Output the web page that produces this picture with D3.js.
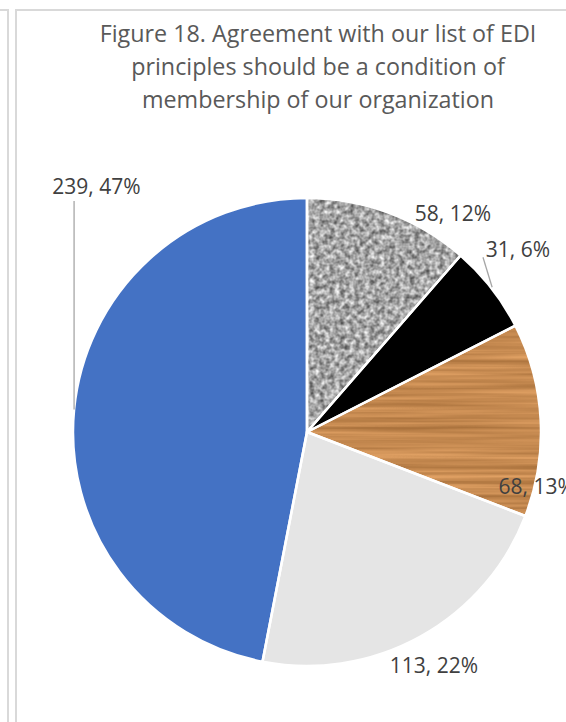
<!DOCTYPE html>
<html>
<head>
<meta charset="utf-8">
<script src="https://cdn.jsdelivr.net/npm/d3@7"></script>
<style>
  html, body { margin: 0; padding: 0; background: #fff; }
  svg { display: block; }
</style>
</head>
<body>
<svg id="chart" width="566" height="722"></svg>
<script>
// ---- data ----
const titleLines = ["Figure 18. Agreement with our list of EDI", "principles should be a condition of", "membership of our organization"];
const categories = ["Strongly agree", "Agree", "Neutral", "Disagree", "Strongly disagree"];
const values = [58, 31, 68, 113, 239];
const percents = ["12%", "6%", "13%", "22%", "47%"];
const fills = ["granite", "#000000", "wood", "#e5e5e5", "#4472c4"];
// label placement (polar: degrees clockwise from top, distance from centre)
const labelAngles = [33.7, 49.1, 103.3, 151.5, 319.3];
const labelRadii = [263, 279, 236, 266, 323];

// ---- layout ----
const W = 566, H = 722;
const cx = 307, cy = 432, R = 234;
const svg = d3.select("#chart");
const defs = svg.append("defs");

// frame lines
const frame = svg.append("g").attr("stroke", "#d9d9d9").attr("stroke-width", 2).attr("fill", "none");
frame.append("path").attr("d", `M0,10 H8 V${H}`);
frame.append("path").attr("d", `M${W},10 H16 V${H}`);

// title
const title = svg.append("text")
  .attr("text-anchor", "middle")
  .attr("font-family", "'Open Sans', sans-serif")
  .attr("font-size", 23.3)
  .attr("fill", "#595959");
titleLines.forEach((t, i) => {
  title.append("tspan").attr("x", 318).attr("y", 42 + i * 33).text(t);
});

// textures
const granite = defs.append("filter").attr("id", "granite")
  .attr("x", 0).attr("y", 0).attr("width", 1).attr("height", 1)
  .attr("color-interpolation-filters", "sRGB");
granite.append("feTurbulence").attr("type", "fractalNoise")
  .attr("baseFrequency", 0.2).attr("numOctaves", 2).attr("seed", 4).attr("result", "n");
granite.append("feColorMatrix").attr("in", "n").attr("type", "matrix")
  .attr("values", "0.9 0 0 0 0.2  0.9 0 0 0 0.2  0.9 0 0 0 0.2  0 0 0 0 1");

const wood = defs.append("filter").attr("id", "wood")
  .attr("x", 0).attr("y", 0).attr("width", 1).attr("height", 1)
  .attr("color-interpolation-filters", "sRGB");
wood.append("feTurbulence").attr("type", "fractalNoise")
  .attr("baseFrequency", "0.004 0.2").attr("numOctaves", 3).attr("seed", 7).attr("result", "n");
wood.append("feColorMatrix").attr("in", "n").attr("type", "matrix")
  .attr("values", "0.35 0 0 0 0.6  0.3 0 0 0 0.39  0.25 0 0 0 0.19  0 0 0 0 1");

// pie
const pie = d3.pie().sort(null).value(d => d.value);
const data = categories.map((c, i) => ({ cat: c, value: values[i], pct: percents[i], fill: fills[i], la: labelAngles[i], lr: labelRadii[i] }));
const arcs = pie(data);
const arc = d3.arc().innerRadius(0).outerRadius(R);

const g = svg.append("g").attr("transform", `translate(${cx},${cy})`);

arcs.forEach((a, i) => {
  const f = a.data.fill;
  if (f === "granite" || f === "wood") {
    const id = "clip" + i;
    defs.append("clipPath").attr("id", id).append("path")
      .attr("transform", `translate(${cx},${cy})`).attr("d", arc(a));
    svg.insert("rect", "g")
      .attr("x", cx - R).attr("y", cy - R).attr("width", 2 * R).attr("height", 2 * R)
      .attr("filter", `url(#${f})`)
      .attr("clip-path", `url(#${id})`);
  } else {
    g.append("path").attr("d", arc(a)).attr("fill", f);
  }
});
// separators
g.selectAll("path.sep").data(arcs).join("path")
  .attr("class", "sep")
  .attr("d", arc)
  .attr("fill", "none")
  .attr("stroke", "#fff")
  .attr("stroke-width", 2.5)
  .attr("stroke-linejoin", "round");

const polar = (deg, r) => [r * Math.sin(deg * Math.PI / 180), -r * Math.cos(deg * Math.PI / 180)];

// leader lines
const leaders = svg.append("g").attr("transform", `translate(${cx},${cy})`)
  .attr("stroke", "#a6a6a6").attr("stroke-width", 1.3).attr("fill", "none");
{
  const a = arcs[1];
  const mid = (a.startAngle + a.endAngle) / 2 * 180 / Math.PI;
  const p0 = polar(mid, R + 1);
  const p1 = polar(45.2, 248);
  leaders.append("line").attr("x1", p0[0]).attr("y1", p0[1]).attr("x2", p1[0]).attr("y2", p1[1]);
}
{
  const p0 = polar(275.5, R);
  leaders.append("line").attr("x1", p0[0]).attr("y1", p0[1]).attr("x2", p0[0]).attr("y2", 201 - cy);
}

// labels
const labels = svg.append("g").attr("transform", `translate(${cx},${cy})`)
  .attr("font-family", "'Open Sans', sans-serif")
  .attr("font-size", 21)
  .attr("fill", "#404040")
  .attr("text-anchor", "middle");
arcs.forEach(a => {
  const p = polar(a.data.la, a.data.lr);
  labels.append("text").attr("x", p[0]).attr("y", p[1]).attr("dy", "0.35em")
    .text(`${a.data.value}, ${a.data.pct}`);
});
</script>
</body>
</html>
